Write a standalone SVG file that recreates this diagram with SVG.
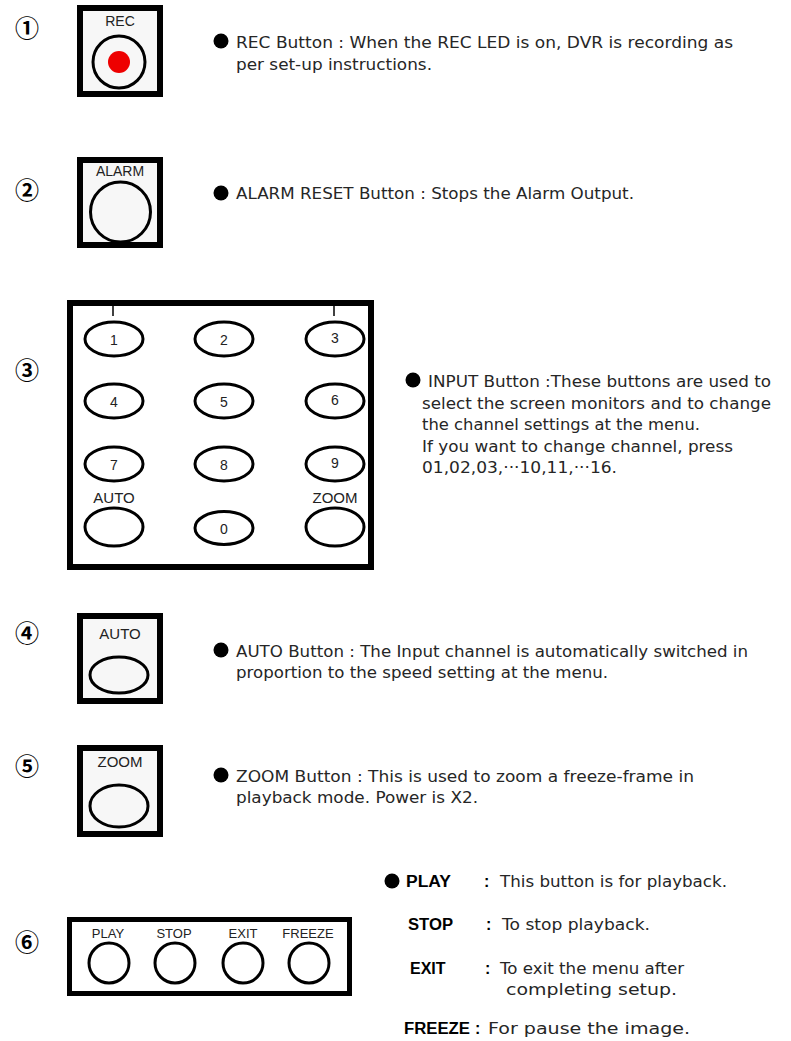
<svg xmlns="http://www.w3.org/2000/svg" width="791" height="1041" viewBox="0 0 791 1041">
<style>
.box{fill:#f7f7f7;stroke:#000;stroke-width:6}
.wbox{fill:#fff;stroke:#000;stroke-width:6}
.btn{fill:none;stroke:#000;stroke-width:3}
.lbl{font-family:"Liberation Sans",Arial,sans-serif;font-size:14px;fill:#222;text-anchor:middle}
.num{font-family:"Noto Sans CJK KR","DejaVu Sans",sans-serif;font-size:24px;font-weight:bold;fill:#000;text-anchor:middle}
.desc{font-family:"DejaVu Sans","Liberation Sans",sans-serif;font-size:15px;fill:#262626}
.bold{font-family:"Liberation Sans",Arial,sans-serif;font-size:16px;font-weight:bold;fill:#000}
.dot{fill:#000}
</style>
<rect width="791" height="1041" fill="#fff"/>

<g id="n1">
<text class="num" x="27" y="37">①</text>
<rect class="box" x="80" y="8" width="80" height="86"/>
<text class="lbl" x="120" y="26">REC</text>
<circle class="btn" cx="119" cy="62" r="26"/>
<circle cx="119" cy="62" r="11" fill="#ee0000"/>
<circle class="dot" cx="221" cy="41" r="7.5"/>
<text class="desc" x="236" y="48" textLength="497" lengthAdjust="spacingAndGlyphs">REC Button : When the REC LED is on, DVR is recording as</text>
<text class="desc" x="236" y="70" textLength="196" lengthAdjust="spacingAndGlyphs">per set-up instructions.</text>
</g>

<g id="n2">
<text class="num" x="27" y="199">②</text>
<rect class="box" x="80" y="160" width="80" height="85"/>
<text class="lbl" x="120" y="176">ALARM</text>
<circle class="btn" cx="120.5" cy="212" r="30"/>
<circle class="dot" cx="221" cy="193" r="7.5"/>
<text class="desc" x="236" y="199" textLength="398" lengthAdjust="spacingAndGlyphs">ALARM RESET Button : Stops the Alarm Output.</text>
</g>

<g id="n3">
<text class="num" x="27" y="379">③</text>
<rect class="wbox" x="70" y="303" width="301" height="264"/>
<line x1="113" y1="303" x2="113" y2="316" stroke="#000" stroke-width="1.5"/>
<line x1="334" y1="303" x2="334" y2="316" stroke="#000" stroke-width="1.5"/>
<ellipse class="btn" cx="114" cy="339" rx="29" ry="17"/>
<ellipse class="btn" cx="224" cy="339" rx="29" ry="17"/>
<ellipse class="btn" cx="335" cy="339" rx="29" ry="17"/>
<ellipse class="btn" cx="114" cy="401" rx="29" ry="17"/>
<ellipse class="btn" cx="224" cy="401" rx="29" ry="17"/>
<ellipse class="btn" cx="335" cy="401" rx="29" ry="17"/>
<ellipse class="btn" cx="114" cy="464" rx="29" ry="17"/>
<ellipse class="btn" cx="224" cy="464" rx="29" ry="17"/>
<ellipse class="btn" cx="335" cy="464" rx="29" ry="17"/>
<ellipse class="btn" cx="114" cy="527" rx="29" ry="19"/>
<ellipse class="btn" cx="224" cy="528" rx="29" ry="16.5"/>
<ellipse class="btn" cx="335" cy="527" rx="29" ry="19"/>
<text class="lbl" x="114" y="345">1</text>
<text class="lbl" x="224" y="345">2</text>
<text class="lbl" x="335" y="343">3</text>
<text class="lbl" x="114" y="407">4</text>
<text class="lbl" x="224" y="407">5</text>
<text class="lbl" x="335" y="405">6</text>
<text class="lbl" x="114" y="470">7</text>
<text class="lbl" x="224" y="470">8</text>
<text class="lbl" x="335" y="468">9</text>
<text class="lbl" x="224" y="534">0</text>
<text class="lbl" x="114" y="503" style="font-size:15px">AUTO</text>
<text class="lbl" x="335" y="503" style="font-size:15px">ZOOM</text>
<circle class="dot" cx="413" cy="380" r="7.5"/>
<text class="desc" x="428" y="387" textLength="343" lengthAdjust="spacingAndGlyphs">INPUT Button :These buttons are used to</text>
<text class="desc" x="422" y="409" textLength="349" lengthAdjust="spacingAndGlyphs">select the screen monitors and to change</text>
<text class="desc" x="422" y="430" textLength="278" lengthAdjust="spacingAndGlyphs">the channel settings at the menu.</text>
<text class="desc" x="422" y="452" textLength="311" lengthAdjust="spacingAndGlyphs">If you want to change channel, press</text>
<text class="desc" x="422" y="473" textLength="195" lengthAdjust="spacingAndGlyphs">01,02,03,···10,11,···16.</text>
</g>

<g id="n4">
<text class="num" x="27" y="642">④</text>
<rect class="box" x="80" y="616" width="80" height="85"/>
<text class="lbl" x="120" y="639" style="font-size:15px">AUTO</text>
<ellipse class="btn" cx="119" cy="675" rx="29" ry="18"/>
<circle class="dot" cx="221" cy="650" r="7.5"/>
<text class="desc" x="236" y="657" textLength="512" lengthAdjust="spacingAndGlyphs">AUTO Button : The Input channel is automatically switched in</text>
<text class="desc" x="236" y="678" textLength="372" lengthAdjust="spacingAndGlyphs">proportion to the speed setting at the menu.</text>
</g>

<g id="n5">
<text class="num" x="27" y="775">⑤</text>
<rect class="box" x="80" y="748" width="80" height="86"/>
<text class="lbl" x="120" y="767" style="font-size:15px">ZOOM</text>
<ellipse class="btn" cx="119" cy="806" rx="29" ry="21"/>
<circle class="dot" cx="221" cy="775" r="7.5"/>
<text class="desc" x="236" y="782" textLength="458" lengthAdjust="spacingAndGlyphs">ZOOM Button : This is used to zoom a freeze-frame in</text>
<text class="desc" x="236" y="803" textLength="242" lengthAdjust="spacingAndGlyphs">playback mode. Power is X2.</text>
</g>

<g id="n6">
<text class="num" x="27" y="951">⑥</text>
<rect class="wbox" x="69.5" y="919.5" width="280" height="74" style="stroke-width:5"/>
<text class="lbl" x="108" y="938" style="font-size:13px">PLAY</text>
<text class="lbl" x="174" y="938" style="font-size:13px">STOP</text>
<text class="lbl" x="243" y="938" style="font-size:13px">EXIT</text>
<text class="lbl" x="308" y="938" style="font-size:13px">FREEZE</text>
<circle class="btn" cx="109" cy="963" r="20"/>
<circle class="btn" cx="175" cy="963" r="20"/>
<circle class="btn" cx="243" cy="963" r="20"/>
<circle class="btn" cx="309" cy="963" r="20"/>
<circle class="dot" cx="392" cy="881" r="7.5"/>
<text class="bold" x="406" y="887" textLength="45" lengthAdjust="spacingAndGlyphs">PLAY</text>
<text class="bold" x="484" y="887">:</text>
<text class="desc" x="500" y="887" textLength="227" lengthAdjust="spacingAndGlyphs">This button is for playback.</text>
<text class="bold" x="408" y="930" textLength="45" lengthAdjust="spacingAndGlyphs">STOP</text>
<text class="bold" x="486" y="930">:</text>
<text class="desc" x="502" y="930" textLength="148" lengthAdjust="spacingAndGlyphs">To stop playback.</text>
<text class="bold" x="410" y="974">EXIT</text>
<text class="bold" x="485" y="974">:</text>
<text class="desc" x="500" y="974" textLength="184" lengthAdjust="spacingAndGlyphs">To exit the menu after</text>
<text class="desc" x="506" y="995" textLength="171" lengthAdjust="spacingAndGlyphs">completing setup.</text>
<text class="bold" x="404" y="1034" textLength="66" lengthAdjust="spacingAndGlyphs">FREEZE</text>
<text class="bold" x="475" y="1034">:</text>
<text class="desc" x="488" y="1034" textLength="202" lengthAdjust="spacingAndGlyphs">For pause the image.</text>
</g>
<g id="connectors"/>
</svg>
